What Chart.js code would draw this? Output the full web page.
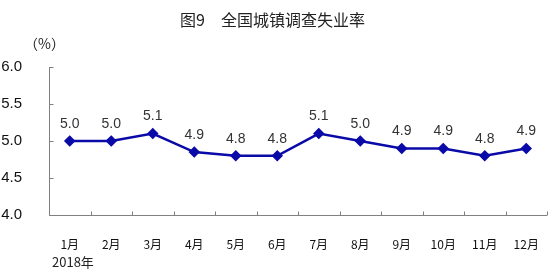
<!DOCTYPE html>
<html><head><meta charset="utf-8">
<script src="https://cdn.jsdelivr.net/npm/chart.js@4/dist/chart.umd.min.js"></script>
<style>
html,body{margin:0;padding:0;background:#fff;}
#wrap{position:relative;width:555px;height:271px;}
canvas{position:absolute;left:0;top:0;}
.t{position:absolute;white-space:nowrap;color:#222;}
</style></head><body>
<div id="wrap">
<canvas id="c" width="555" height="271"></canvas>
<div class="t" style="left:180px;top:7px;font:16px 'Noto Sans CJK SC';">图9　全国城镇调查失业率</div>
<div class="t" style="left:24px;top:33px;font:14px 'Noto Sans CJK SC';">（%）</div>
<div class="t" style="left:52px;top:252px;font:13px 'Noto Sans CJK SC';">2018年</div>
</div>
<script>
const categories = ['1月','2月','3月','4月','5月','6月','7月','8月','9月','10月','11月','12月'];
const rateValues = [5.0, 5.0, 5.1, 4.85, 4.8, 4.8, 5.1, 5.0, 4.9, 4.9, 4.8, 4.9];
const rateLabels = ['5.0','5.0','5.1','4.9','4.8','4.8','5.1','5.0','4.9','4.9','4.8','4.9'];
const yTicks = [4.0, 4.5, 5.0, 5.5, 6.0];

const axisPlugin = {
  id:'axisPlugin',
  afterDraw(chart){
    const ctx = chart.ctx, a = chart.chartArea;
    const xs = chart.scales.x, ys = chart.scales.y;
    ctx.save();
    ctx.strokeStyle = '#808080'; ctx.lineWidth = 1;
    ctx.beginPath();
    const L = Math.round(a.left)+0.5, B = Math.round(a.bottom)+0.5;
    ctx.moveTo(L, Math.round(ys.getPixelForValue(6))); ctx.lineTo(L, B);
    ctx.lineTo(Math.round(a.right), B);
    yTicks.forEach(v=>{ const y = Math.round(ys.getPixelForValue(v))+0.5; ctx.moveTo(L,y); ctx.lineTo(L+4,y); });
    for(let i=0;i<=categories.length;i++){
      const x = Math.round(xs.getPixelForValue(i-0.5))+0.5;
      ctx.moveTo(x,B); ctx.lineTo(x,B-4);
    }
    ctx.stroke();
    const meta = chart.getDatasetMeta(0);
    ctx.fillStyle = '#333';
    ctx.font = '14px Arial, "Liberation Sans"';
    ctx.textAlign = 'center'; ctx.textBaseline = 'middle';
    meta.data.forEach((pt,i)=>{ ctx.fillText(rateLabels[i], pt.x, pt.y-17); });
    ctx.restore();
  }
};

new Chart(document.getElementById('c'), {
  type:'line',
  data:{ labels:categories, datasets:[{
    data:rateValues, borderColor:'#0a0aa8', backgroundColor:'#0a0aa8',
    borderWidth:2.5, pointStyle:'rectRot', pointRadius:4, pointHoverRadius:4,
    tension:0, fill:false
  }]},
  options:{
    responsive:false, animation:false, events:[],
    layout:{padding:{left:0,right:8,top:67,bottom:0}},
    plugins:{legend:{display:false}, tooltip:{enabled:false}, title:{display:false}},
    scales:{
      x:{ offset:true, grid:{display:false, offset:true}, border:{display:false},
          ticks:{color:'#111', font:{family:'"Noto Sans CJK SC"', size:12}, padding:14, maxRotation:0, autoSkip:false},
          afterFit(s){ s.height = 56; } },
      y:{ min:4, max:6, grid:{display:false}, border:{display:false},
          ticks:{stepSize:0.5, color:'#111', font:{family:'Arial, "Liberation Sans"', size:15}, padding:19,
                 callback:v=>Number(v).toFixed(1)},
          afterFit(s){ s.width = 49; } }
    }
  },
  plugins:[axisPlugin]
});
</script>
</body></html>
